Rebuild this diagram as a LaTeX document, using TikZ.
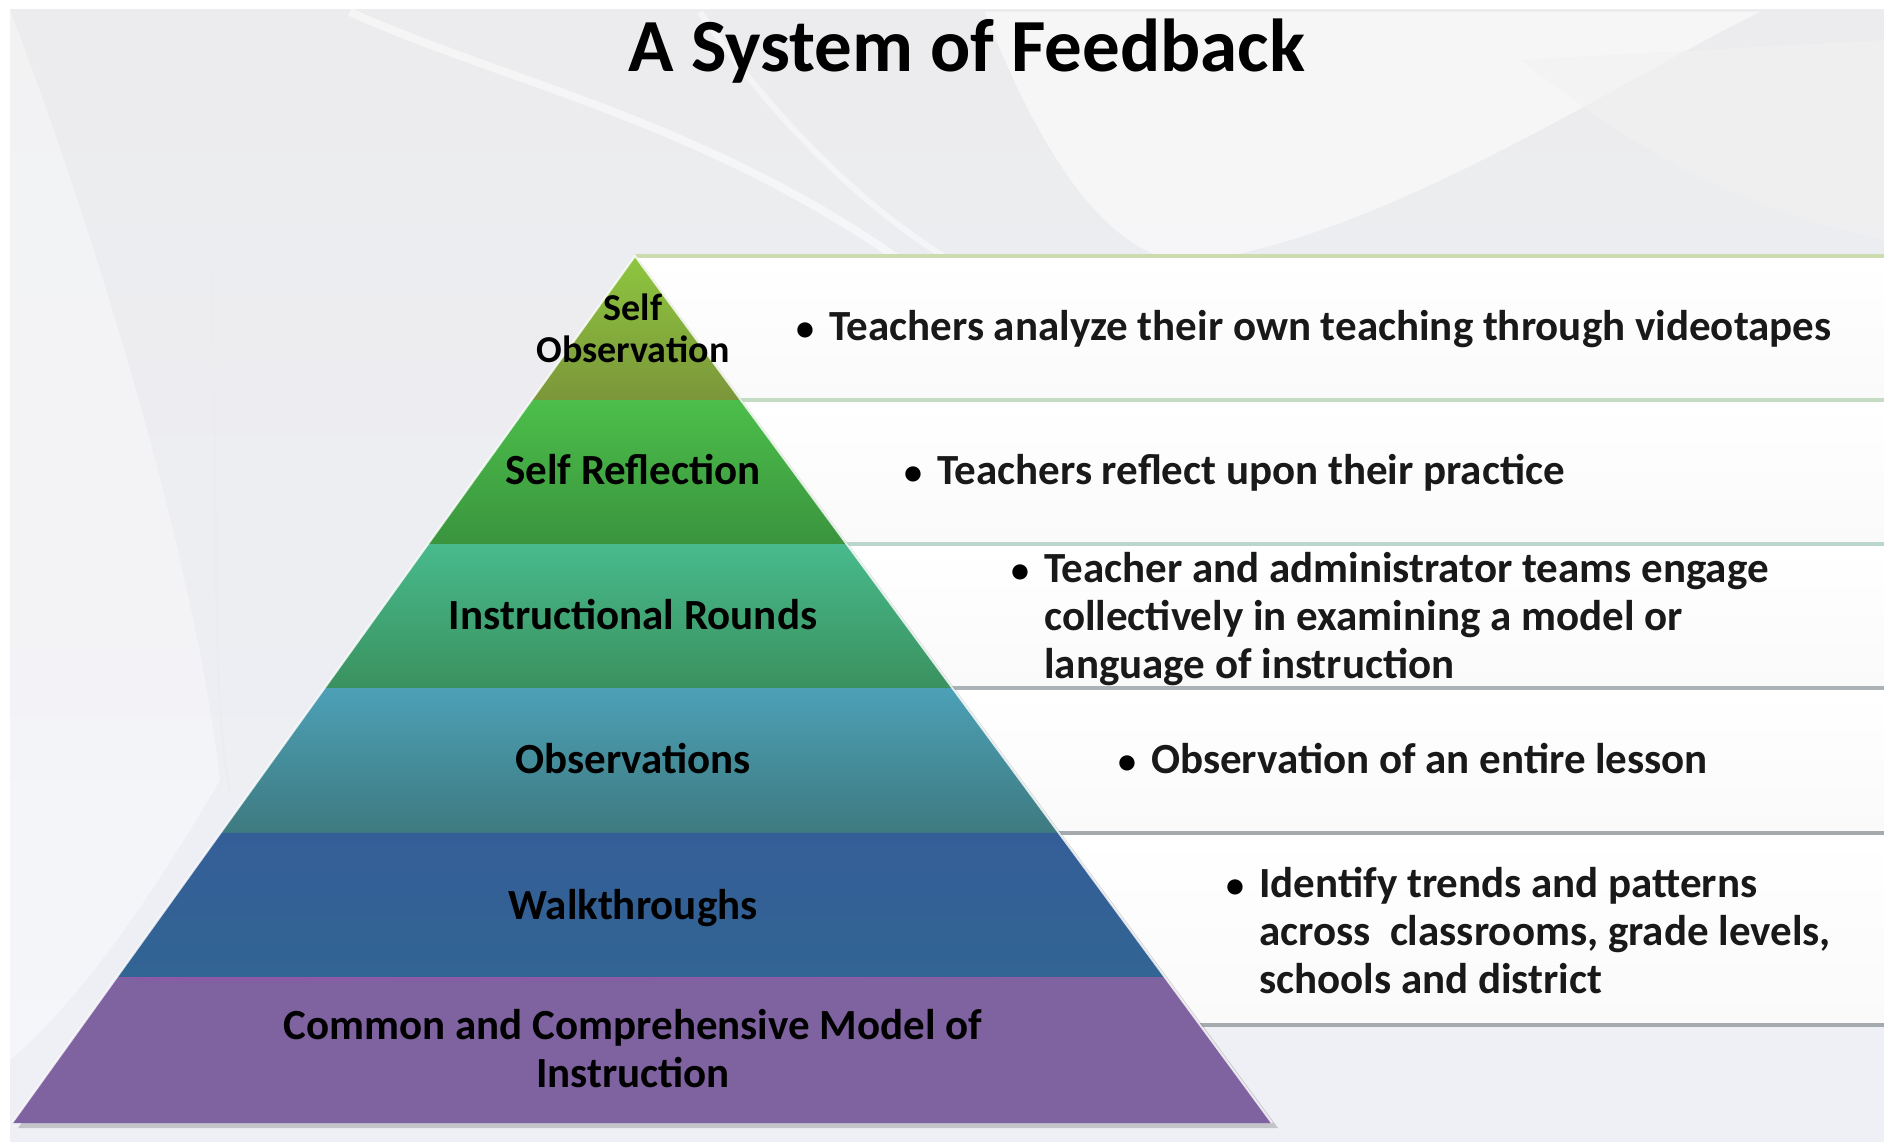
\documentclass[tikz,border=0pt]{standalone}
\usepackage{fontspec}
\setmainfont{Carlito}
\usetikzlibrary{calc}
\definecolor{bgA}{RGB}{236,236,238}
\definecolor{bgB}{RGB}{238,240,246}
\definecolor{gOneT}{RGB}{141,198,63}
\definecolor{gOneB}{RGB}{124,150,58}
\definecolor{gTwoT}{RGB}{76,190,74}
\definecolor{gTwoB}{RGB}{58,148,62}
\definecolor{gThrT}{RGB}{72,186,140}
\definecolor{gThrB}{RGB}{58,145,95}
\definecolor{gFouT}{RGB}{76,160,182}
\definecolor{gFouB}{RGB}{62,122,128}
\definecolor{gFivT}{RGB}{52,94,152}
\definecolor{gFivB}{RGB}{50,100,148}
\definecolor{gSixT}{RGB}{143,88,168}
\definecolor{gSixB}{RGB}{127,98,160}
\definecolor{lnA}{RGB}{205,220,175}
\definecolor{lnB}{RGB}{195,220,195}
\definecolor{lnC}{RGB}{185,215,205}
\definecolor{lnD}{RGB}{172,177,182}
\definecolor{lnE}{RGB}{165,170,175}
\tikzset{
  lbl/.style={font=\fontsize{43}{48}\selectfont\bfseries, text=black, inner sep=0pt, align=center, anchor=base},
  desc/.style={font=\fontsize{43}{48}\selectfont\bfseries, text=black!90, inner sep=0pt, anchor=base west},
  bul/.style={font=\fontsize{36}{48}\selectfont\bfseries, text=black, inner sep=0pt, anchor=base west},
  panel/.style={top color=white, bottom color=gray!4},
  sep/.style={line width=3.5pt}
}
\begin{document}
\begin{tikzpicture}[x=1pt,y=-1pt]
\useasboundingbox (0,0) rectangle (1884,1142);
% background
\fill[white] (0,0) rectangle (1884,1142);
\shade[top color=bgA, bottom color=bgB] (10,10) rectangle (1884,1142);
\fill[white, opacity=0.55] (985,12) .. controls (1050,180) and (1120,260) .. (1190,262) .. controls (1380,240) and (1620,80) .. (1760,12) -- cycle;
\fill[white, opacity=0.35] (10,10) .. controls (120,300) and (200,600) .. (220,780) -- (10,780) -- cycle;
\fill[white, opacity=0.4] (10,780) -- (220,780) .. controls (150,900) and (80,1000) .. (10,1060) -- cycle;
\fill[gray!10, opacity=0.5] (1520,60) .. controls (1600,120) and (1700,200) .. (1884,240) -- (1884,40) -- cycle;
\draw[white, line width=8pt, opacity=0.5] (350,12) .. controls (500,80) and (700,120) .. (900,260);
\draw[white, line width=6pt, opacity=0.45] (700,12) .. controls (760,100) and (850,200) .. (950,260);
\draw[gray!15, line width=2pt] (210,250) .. controls (220,500) and (210,700) .. (230,790);

% title
\node[font=\fontsize{75}{80}\selectfont\bfseries, inner sep=0pt, anchor=base] (title) at (967,72) {A System of Feedback};

% panels
\fill[panel] (635,256) rectangle (1884,400);
\fill[panel] (635,400) rectangle (1884,544);
\fill[panel] (635,544) rectangle (1884,688);
\fill[panel] (635,688) rectangle (1884,833);
\fill[panel] (635,833) rectangle (1884,1025);
\draw[sep, lnA] (635,256) -- (1884,256);
\draw[sep, lnB] (635,400) -- (1884,400);
\draw[sep, lnC] (635,544) -- (1884,544);
\draw[sep, lnD] (635,688) -- (1884,688);
\draw[sep, lnE] (635,833) -- (1884,833);
\draw[sep, lnE] (635,1025) -- (1884,1025);

% pyramid geometry
\coordinate (A) at (635,256);
\coordinate (BL) at (12,1123);
\coordinate (BR) at (1272,1123);
\coordinate (L1) at ($(A)!0.1661!(BL)$); \coordinate (R1) at ($(A)!0.1661!(BR)$);
\coordinate (L2) at ($(A)!0.3322!(BL)$); \coordinate (R2) at ($(A)!0.3322!(BR)$);
\coordinate (L3) at ($(A)!0.4983!(BL)$); \coordinate (R3) at ($(A)!0.4983!(BR)$);
\coordinate (L4) at ($(A)!0.6655!(BL)$); \coordinate (R4) at ($(A)!0.6655!(BR)$);
\coordinate (L5) at ($(A)!0.8316!(BL)$); \coordinate (R5) at ($(A)!0.8316!(BR)$);

% shadow
\fill[black, opacity=0.18] ($(A)+(5,5)$) -- ($(BR)+(6,5)$) -- ($(BL)+(6,5)$) -- cycle;
% bands
\shade[top color=gOneT, bottom color=gOneB] (A) -- (R1) -- (L1) -- cycle;
\shade[top color=gTwoT, bottom color=gTwoB] (L1) -- (R1) -- (R2) -- (L2) -- cycle;
\shade[top color=gThrT, bottom color=gThrB] (L2) -- (R2) -- (R3) -- (L3) -- cycle;
\shade[top color=gFouT, bottom color=gFouB] (L3) -- (R3) -- (R4) -- (L4) -- cycle;
\shade[top color=gFivT, bottom color=gFivB] (L4) -- (R4) -- (R5) -- (L5) -- cycle;
\fill[gSixB] (L5) -- (R5) -- (BR) -- (BL) -- cycle;
\shade[top color=gSixT, bottom color=gSixB] (L5) -- (R5) -- ($(L5)!0.04!(BR)$) -- cycle;
\draw[white, line width=2pt, opacity=0.8] (BL) -- (A) -- (BR);

% pyramid labels
\node[lbl, font=\fontsize{38}{42}\selectfont\bfseries] (l1) at (633,320) {\begin{tabular}[t]{@{}c@{}}Self\\Observation\end{tabular}};
\node[lbl] (l2) at (633,484) {Self Reflection};
\node[lbl] (l3) at (633,629) {Instructional Rounds};
\node[lbl] (l4) at (633,773) {Observations};
\node[lbl] (l5) at (633,919) {Walkthroughs};
\node[lbl] (l6) at (633,1039) {\begin{tabular}[t]{@{}c@{}}Common and Comprehensive Model of\\Instruction\end{tabular}};

% descriptions
\node[bul] (b1) at (796,340) {\textbullet};
\node[desc] (d1) at (829,340) {Teachers analyze their own teaching through videotapes};
\node[bul] (b2) at (904,484) {\textbullet};
\node[desc] (d2) at (937,484) {Teachers reflect upon their practice};
\node[bul] (b3) at (1011,582) {\textbullet};
\node[desc] (d3) at (1044,582) {\begin{tabular}[t]{@{}l@{}}Teacher and administrator teams engage\\collectively in examining a model or\\language of instruction\end{tabular}};
\node[bul] (b4) at (1118,773) {\textbullet};
\node[desc] (d4) at (1151,773) {Observation of an entire lesson};
\node[bul] (b5) at (1226,897) {\textbullet};
\node[desc] (d5) at (1259,897) {\begin{tabular}[t]{@{}l@{}}Identify trends and patterns\\across\ \ classrooms, grade levels,\\schools and district\end{tabular}};
\end{tikzpicture}
\end{document}
